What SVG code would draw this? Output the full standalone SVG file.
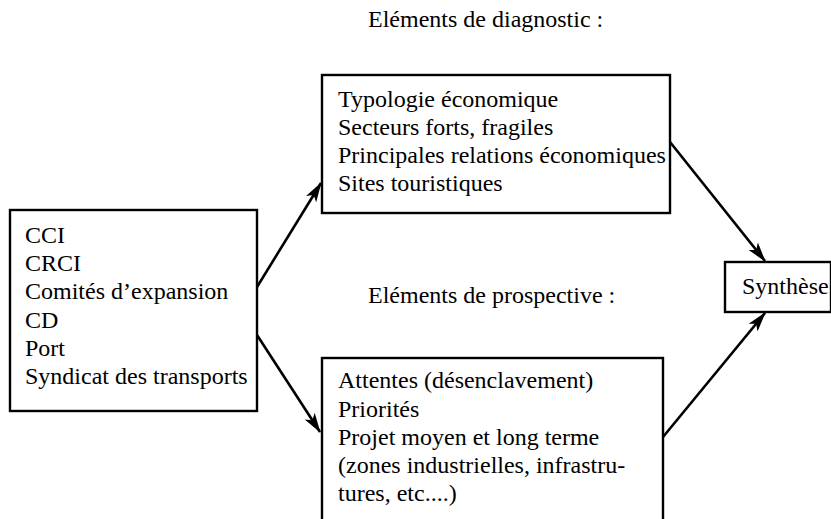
<svg xmlns="http://www.w3.org/2000/svg" width="831" height="519" viewBox="0 0 831 519">
<style>
  .t { font-family: "Liberation Serif", "Times New Roman", serif; font-size: 24px; fill: #000; }
  .box { fill: #fff; stroke: #000; stroke-width: 2.4; }
  .conn { stroke: #000; stroke-width: 2.6; fill: none; marker-end: url(#ah); }
</style>
<defs>
  <marker id="ah" viewBox="0 0 20 12" refX="19" refY="6" markerWidth="20" markerHeight="12" markerUnits="userSpaceOnUse" orient="auto">
    <path d="M0,0 L20,6 L0,12 L5,6 Z" fill="#000"/>
  </marker>
</defs>
<rect width="831" height="519" fill="#fff"/>
<g id="label-diagnostic"><text class="t" x="368" y="27">Eléments de diagnostic :</text></g>
<g id="label-prospective"><text class="t" x="368" y="303">Eléments de prospective :</text></g>
<g id="sources">
  <rect class="box" x="10" y="210" width="247" height="201"/>
  <text class="t" x="25" y="243">CCI</text>
  <text class="t" x="25" y="271">CRCI</text>
  <text class="t" x="25" y="299">Comités d’expansion</text>
  <text class="t" x="25" y="328">CD</text>
  <text class="t" x="25" y="356">Port</text>
  <text class="t" x="25" y="384">Syndicat des transports</text>
</g>
<g id="diagnostic">
  <rect class="box" x="322" y="75" width="348" height="138"/>
  <text class="t" x="338" y="107">Typologie économique</text>
  <text class="t" x="338" y="135">Secteurs forts, fragiles</text>
  <text class="t" x="338" y="163">Principales relations économiques</text>
  <text class="t" x="338" y="191">Sites touristiques</text>
</g>
<g id="prospective">
  <rect class="box" x="322" y="358" width="341" height="170"/>
  <text class="t" x="338" y="388">Attentes (désenclavement)</text>
  <text class="t" x="338" y="417">Priorités</text>
  <text class="t" x="338" y="445">Projet moyen et long terme</text>
  <text class="t" x="338" y="473">(zones industrielles, infrastru-</text>
  <text class="t" x="338" y="501">tures, etc....)</text>
</g>
<g id="synthese">
  <rect class="box" x="725" y="262" width="106" height="50"/>
  <text class="t" x="742" y="294">Synthèse</text>
</g>
<g id="connectors">
  <line class="conn" x1="257" y1="287" x2="321" y2="183"/>
  <line class="conn" x1="257" y1="335" x2="320" y2="432"/>
  <line class="conn" x1="670" y1="142" x2="765" y2="261"/>
  <line class="conn" x1="663" y1="437" x2="765" y2="313"/>
</g>
</svg>
